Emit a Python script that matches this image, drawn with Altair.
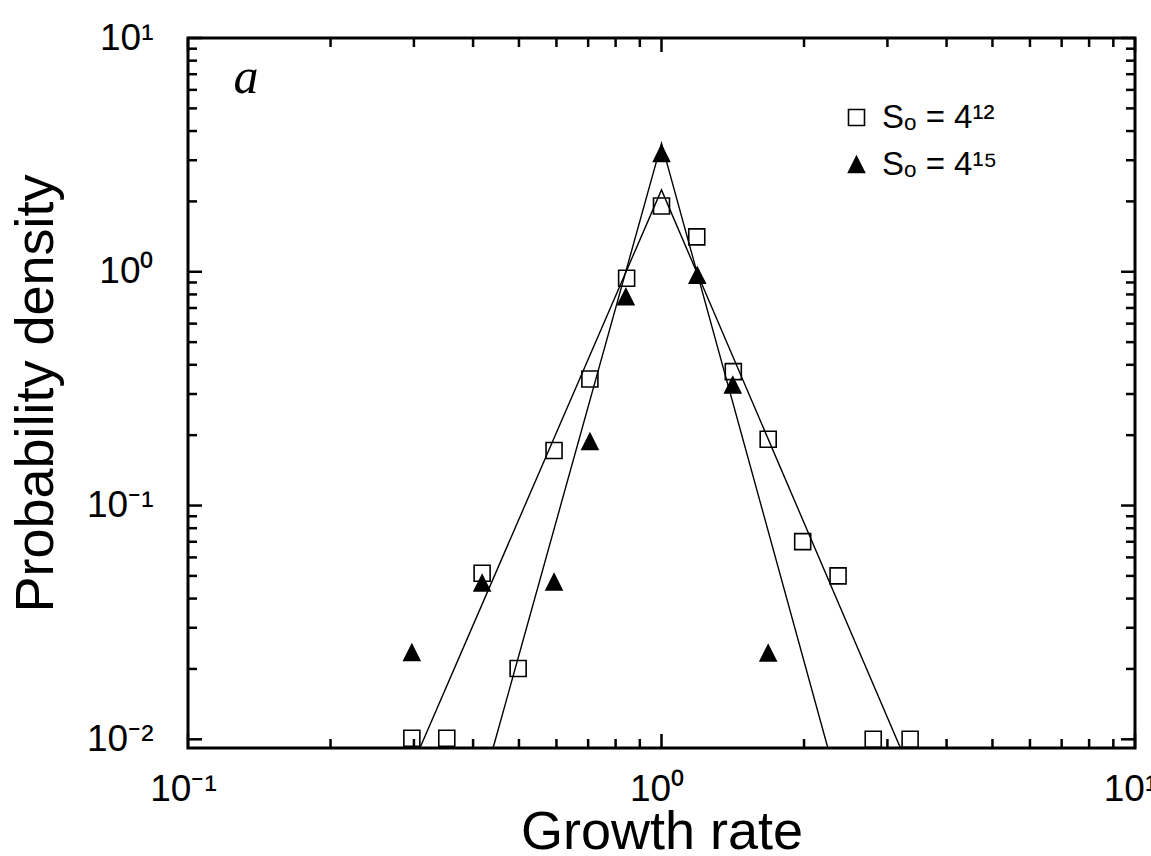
import altair as alt
import pandas as pd

# ---- data ----
sq_label = "Sₒ = 4¹²"
tri_label = "Sₒ = 4¹⁵"

sq_x = [0.297, 0.352, 0.418, 0.498, 0.593, 0.706, 0.844, 1.00, 1.187, 1.418, 1.68, 1.987, 2.36, 2.80, 3.35]
sq_y = [0.0101, 0.0101, 0.0513, 0.0201, 0.172, 0.348, 0.938, 1.91, 1.41, 0.374, 0.192, 0.0701, 0.050, 0.0100, 0.0100]

tri_x = [0.297, 0.418, 0.593, 0.706, 0.841, 1.00, 1.19, 1.414, 1.68]
tri_y = [0.0235, 0.0466, 0.0471, 0.188, 0.782, 3.21, 0.966, 0.328, 0.0234]

# fitted tent lines (left foot, peak, right foot)
fit_outer_x = [0.309, 1.0, 3.195]
fit_outer_y = [0.0092, 2.24, 0.0092]
fit_inner_x = [0.441, 1.0, 2.245]
fit_inner_y = [0.0092, 3.54, 0.0092]

x_major = [0.1, 1, 10]
x_minor = [0.2, 0.3, 0.4, 0.5, 0.6, 0.7, 0.8, 0.9, 2, 3, 4, 5, 6, 7, 8, 9]
y_major = [0.01, 0.1, 1, 10]
y_minor = [0.02, 0.03, 0.04, 0.05, 0.06, 0.07, 0.08, 0.09,
           0.2, 0.3, 0.4, 0.5, 0.6, 0.7, 0.8, 0.9,
           2, 3, 4, 5, 6, 7, 8, 9]

W, H = 947, 710
FONT = "Liberation Sans"

pts = pd.DataFrame({
    "x": sq_x + tri_x,
    "y": sq_y + tri_y,
    "series": [sq_label] * len(sq_x) + [tri_label] * len(tri_x),
})
fits = pd.DataFrame({
    "x": fit_outer_x + fit_inner_x,
    "y": fit_outer_y + fit_inner_y,
    "fit": ["outer"] * 3 + ["inner"] * 3,
})

xscale = alt.Scale(type="log", domain=[0.1, 10], nice=False)
yscale = alt.Scale(type="log", domain=[0.00918, 10], nice=False)

x_label_expr = "datum.value < 0.5 ? '10⁻¹' : (datum.value < 5 ? '10⁰' : '10¹')"
y_label_expr = ("datum.value < 0.05 ? '10⁻²' : (datum.value < 0.5 ? '10⁻¹' : "
                "(datum.value < 5 ? '10⁰' : '10¹'))")

xaxis = alt.Axis(values=x_major, labelExpr=x_label_expr, ticks=False, tickSize=0,
                 domain=False, grid=False, labelFont=FONT, labelFontSize=37,
                 labelBaseline="alphabetic", labelPadding=52, labelOffset=-5,
                 labelColor="black", title="Growth rate", titleFont=FONT,
                 titleFontSize=54, titleFontWeight="normal", titleColor="black",
                 titleBaseline="alphabetic", titleY=100, labelFlush=False)
yaxis = alt.Axis(values=y_major, labelExpr=y_label_expr, ticks=False, tickSize=0,
                 domain=False, grid=False, labelFont=FONT, labelFontSize=37,
                 labelPadding=35, labelColor="black", labelBaseline="middle",
                 title="Probability density", titleFont=FONT, titleFontSize=54,
                 titleFontWeight="normal", titleColor="black", titleAngle=-90,
                 titleBaseline="alphabetic", titleX=-136, titleY=H / 2,
                 titleAlign="center", labelFlush=False)

leg = alt.Legend(title=None, orient="none", legendX=652, legendY=63,
                 labelFont=FONT, labelFontSize=33, labelColor="black",
                 symbolSize=256, symbolStrokeWidth=1.6,
                 labelOffset=9, rowPadding=13, padding=0)
dom = [sq_label, tri_label]

points = alt.Chart(pts).mark_point(strokeWidth=1.6, size=256, opacity=1).encode(
    x=alt.X("x:Q", scale=xscale, axis=xaxis),
    y=alt.Y("y:Q", scale=yscale, axis=yaxis),
    shape=alt.Shape("series:N",
                    scale=alt.Scale(domain=dom, range=["square", "M0,-1L1,1L-1,1Z"]),
                    legend=leg),
    fill=alt.Fill("series:N", scale=alt.Scale(domain=dom, range=["transparent", "black"]),
                  legend=leg),
    stroke=alt.Stroke("series:N", scale=alt.Scale(domain=dom, range=["black", "black"]),
                      legend=leg),
)

lines = alt.Chart(fits).mark_line(color="black", strokeWidth=1.4, clip=True).encode(
    x=alt.X("x:Q", scale=xscale, axis=xaxis),
    y=alt.Y("y:Q", scale=yscale, axis=yaxis),
    detail="fit:N",
)

tick_layers = []
for vals, ln in ((x_major, 14), (x_minor, 9)):
    d = pd.DataFrame({"t": vals})
    tick_layers.append(alt.Chart(d).mark_rule(color="black", strokeWidth=2.5).encode(
        x=alt.X("t:Q", scale=xscale, axis=xaxis), y=alt.value(H), y2=alt.value(H - ln)))
    tick_layers.append(alt.Chart(d).mark_rule(color="black", strokeWidth=2.5).encode(
        x=alt.X("t:Q", scale=xscale, axis=xaxis), y=alt.value(0), y2=alt.value(ln)))
for vals, ln in ((y_major, 14), (y_minor, 9)):
    d = pd.DataFrame({"t": vals})
    tick_layers.append(alt.Chart(d).mark_rule(color="black", strokeWidth=2.5).encode(
        y=alt.Y("t:Q", scale=yscale, axis=yaxis), x=alt.value(0), x2=alt.value(ln)))
    tick_layers.append(alt.Chart(d).mark_rule(color="black", strokeWidth=2.5).encode(
        y=alt.Y("t:Q", scale=yscale, axis=yaxis), x=alt.value(W), x2=alt.value(W - ln)))

panel = alt.Chart(pd.DataFrame({"t": ["a"]})).mark_text(
    font="Liberation Serif", fontStyle="italic", fontSize=50, color="black",
    align="center", baseline="alphabetic").encode(
    text="t:N", x=alt.value(58), y=alt.value(55))

chart = alt.layer(points, lines, panel, *tick_layers).properties(
    width=W, height=H,
    autosize=alt.AutoSizeParams(type="none"),
    padding={"left": 188, "top": 38, "right": 16, "bottom": 108},
    background="white",
).configure_view(stroke="black", strokeWidth=3).resolve_scale(x="shared", y="shared")

chart.save("out.html", embed_options={"renderer": "svg", "actions": False})
